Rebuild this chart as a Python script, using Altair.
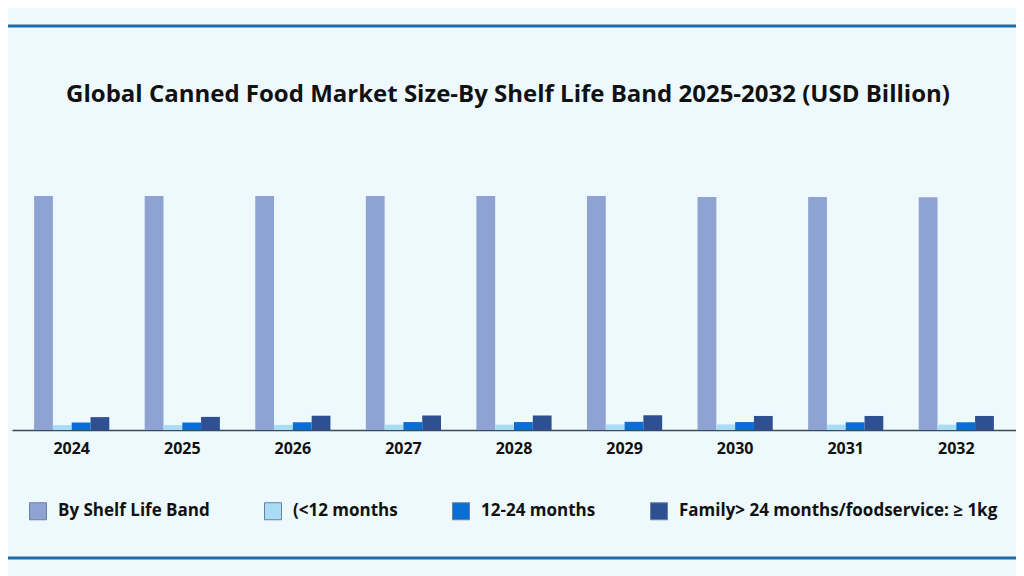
import altair as alt
import pandas as pd

YEARS = ["2024", "2025", "2026", "2027", "2028", "2029", "2030", "2031", "2032"]
SERIES = [
    "By Shelf Life Band",
    "(<12 months",
    "12-24 months",
    "Family> 24 months/foodservice: ≥ 1kg",
]
COLORS = ["#8FA3D3", "#A9DDF5", "#0B6FD1", "#2E4F92"]

shelf_life_band = [100.0, 100.0, 100.0, 100.0, 100.0, 100.0, 99.6, 99.6, 99.5]
under_12 = [2.1, 2.1, 2.2, 2.3, 2.3, 2.4, 2.4, 2.3, 2.3]
months_12_24 = [3.2, 3.2, 3.3, 3.4, 3.4, 3.5, 3.4, 3.3, 3.3]
over_24 = [5.5, 5.6, 6.1, 6.2, 6.2, 6.3, 6.0, 6.0, 6.0]

BG = "#EEF9FD"
LINE = "#1F6CA4"

rows = []
for name, vals in zip(SERIES, [shelf_life_band, under_12, months_12_24, over_24]):
    for year, v in zip(YEARS, vals):
        rows.append({"year": year, "series": name, "value": v})
df = pd.DataFrame(rows)

bars = (
    alt.Chart(df)
    .mark_bar()
    .encode(
        x=alt.X(
            "year:N",
            sort=YEARS,
            title=None,
            scale=alt.Scale(paddingInner=0.32, paddingOuter=0.2),
            axis=alt.Axis(
                labelAngle=0,
                labelFont="Open Sans",
                labelFontSize=16,
                labelFontWeight="bold",
                labelColor="#111111",
                labelPadding=10,
                ticks=False,
                domainColor="#3A4A5C",
                domainWidth=1.5,
            ),
        ),
        xOffset=alt.XOffset("series:N", sort=SERIES),
        y=alt.Y("value:Q", axis=None, scale=alt.Scale(domain=[0, 100], nice=False)),
        color=alt.Color(
            "series:N",
            sort=SERIES,
            scale=alt.Scale(domain=SERIES, range=COLORS),
            legend=alt.Legend(
                title=None,
                orient="none",
                direction="horizontal",
                legendX=17,
                legendY=306,
                symbolType="square",
                symbolSize=289,
                symbolOpacity=1,
                symbolStrokeWidth=1,
                symbolStrokeColor="#6A7FA8",
                labelFont="Open Sans",
                labelFontSize=17,
                labelFontWeight="bold",
                labelColor="#111111",
                labelOffset=11,
                labelLimit=400,
                columnPadding=52,
            ),
        ),
    )
)

frame_lines = (
    alt.Chart(pd.DataFrame({"edge": ["top", "bottom"], "ypos": [-170, 362]}))
    .mark_rule(color=LINE, strokeWidth=3)
    .encode(
        x=alt.value(-12),
        x2=alt.value(1010),
        y=alt.Y("ypos:Q", scale=None),
    )
)

chart = (
    alt.layer(frame_lines, bars)
    .properties(
        width=1004,
        height=234,
        background=BG,
        autosize=alt.AutoSizeParams(type="none"),
        padding={"left": 4, "right": 0, "top": 188, "bottom": 146},
        title=alt.TitleParams(
            "Global Canned Food Market Size-By Shelf Life Band 2025-2032 (USD Billion)",
            font="Open Sans",
            fontSize=24,
            fontWeight="bold",
            color="#111111",
            anchor="middle",
            frame="group",
            baseline="alphabetic",
            offset=-101,
            dx=-6,
        ),
    )
    .configure_view(stroke=None)
)

chart.save("out.html", embed_options={"renderer": "svg", "actions": False})
